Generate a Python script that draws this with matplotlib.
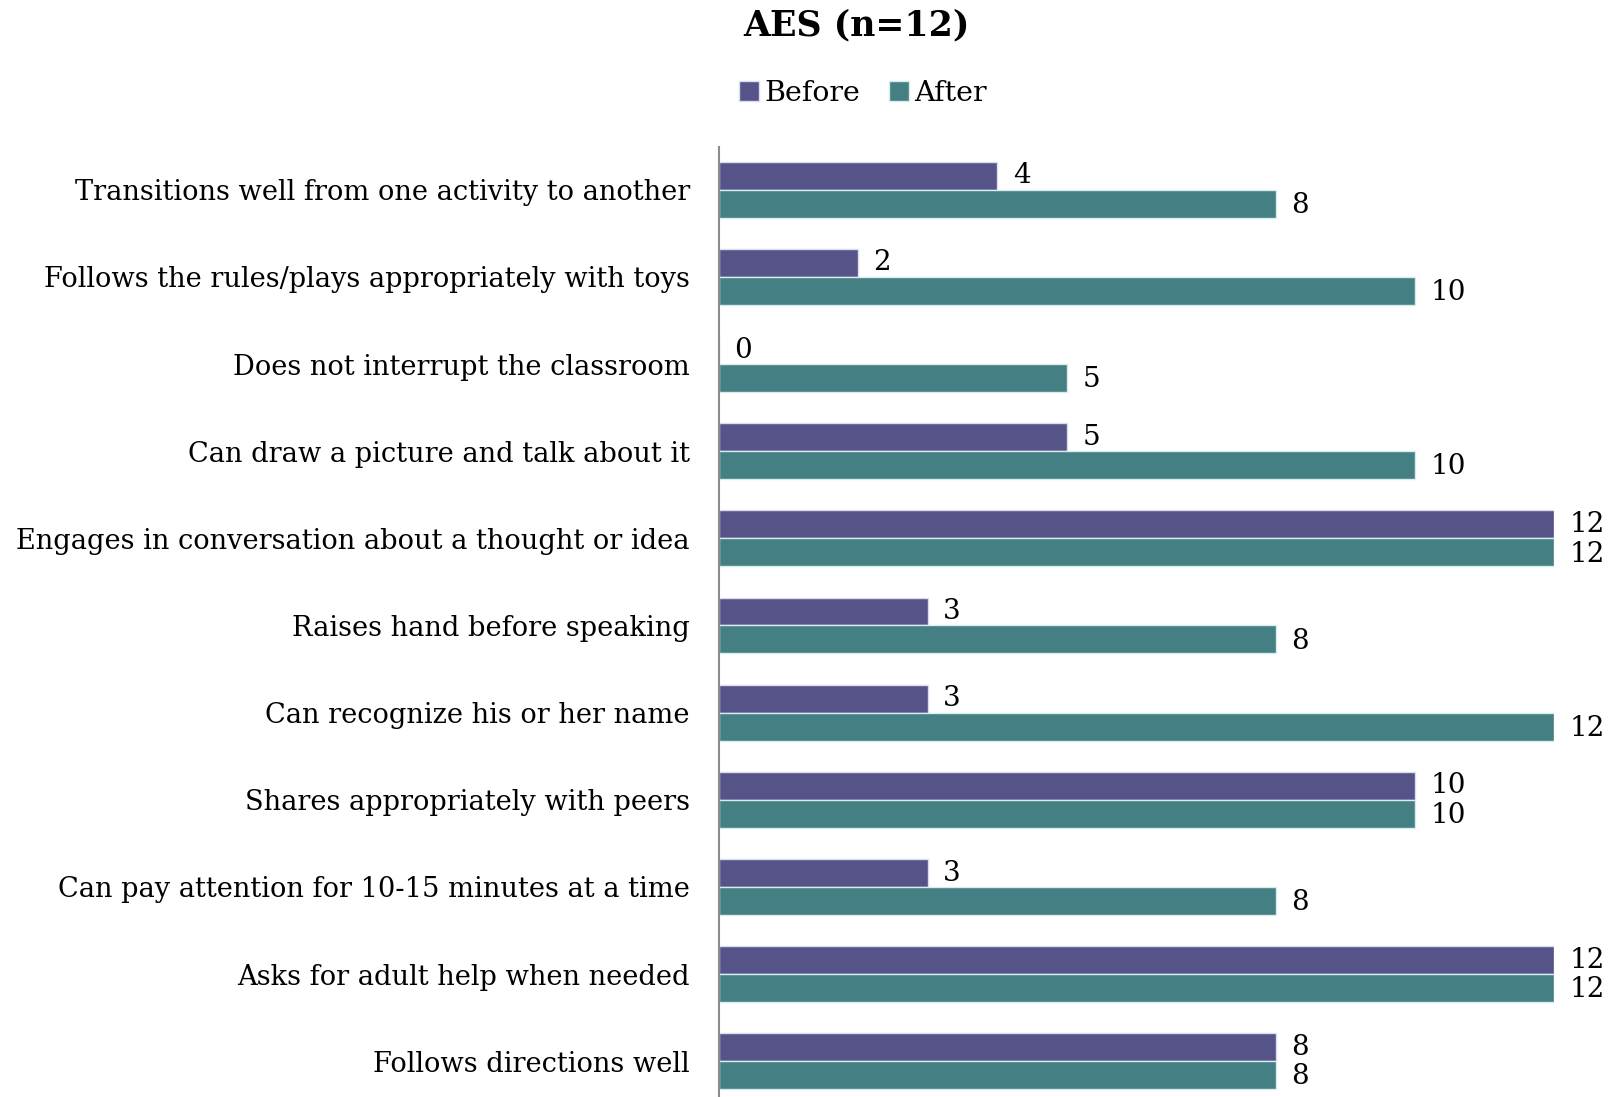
import matplotlib.pyplot as plt
import numpy as np

kategorier = [
    "Transitions well from one activity to another",
    "Follows the rules/plays appropriately with toys",
    "Does not interrupt the classroom",
    "Can draw a picture and talk about it",
    "Engages in conversation about a thought or idea",
    "Raises hand before speaking",
    "Can recognize his or her name",
    "Shares appropriately with peers",
    "Can pay attention for 10-15 minutes at a time",
    "Asks for adult help when needed",
    "Follows directions well",
]
for_verdier = [4, 2, 0, 5, 12, 3, 3, 10, 3, 12, 8]    # Before
etter_verdier = [8, 10, 5, 10, 12, 8, 12, 10, 8, 12, 8]  # After

lilla = "#565389"
gronn = "#447f84"

plt.rcParams['font.family'] = ['DejaVu Serif']

fig = plt.figure(figsize=(16.1, 10.97), dpi=100)
ax = fig.add_axes([0.4466, 0.0, 0.5186, 0.866])

y = np.arange(len(kategorier))
h = 0.32
b1 = ax.barh(y - h / 2, for_verdier, height=h, color=lilla, edgecolor="#dcdcf0", linewidth=1, label="Before")
b2 = ax.barh(y + h / 2, etter_verdier, height=h, color=gronn, edgecolor="#d8ecec", linewidth=1, label="After")

for rect, v in zip(b1, for_verdier):
    ax.text(v + 0.22, rect.get_y() + rect.get_height() / 2, str(v), va="center", ha="left",
            fontsize=20, clip_on=False)
for rect, v in zip(b2, etter_verdier):
    ax.text(v + 0.22, rect.get_y() + rect.get_height() / 2 + 0.02, str(v), va="center", ha="left",
            fontsize=20, clip_on=False)

ax.set_yticks(y)
ax.set_yticklabels(kategorier, fontsize=19.6)
ax.tick_params(axis="y", length=0, pad=21)
ax.set_xticks([])
ax.set_xlim(0, 12)
ax.set_ylim(10.41, -0.49)

for s in ["top", "right", "bottom"]:
    ax.spines[s].set_visible(False)
ax.spines["left"].set_color("#8c8c8c")
ax.spines["left"].set_linewidth(1.5)

fig.text(0.532, 0.977, "AES (n=12)", ha="center", va="center", fontsize=25, fontweight="bold")
fig.legend(handles=[b1, b2], loc="center", bbox_to_anchor=(0.536, 0.915), ncol=2, frameon=False,
           fontsize=20.5, handlelength=0.7, handleheight=0.7, handletextpad=0.2, columnspacing=1.0)

fig.savefig("out.png", dpi=100)
